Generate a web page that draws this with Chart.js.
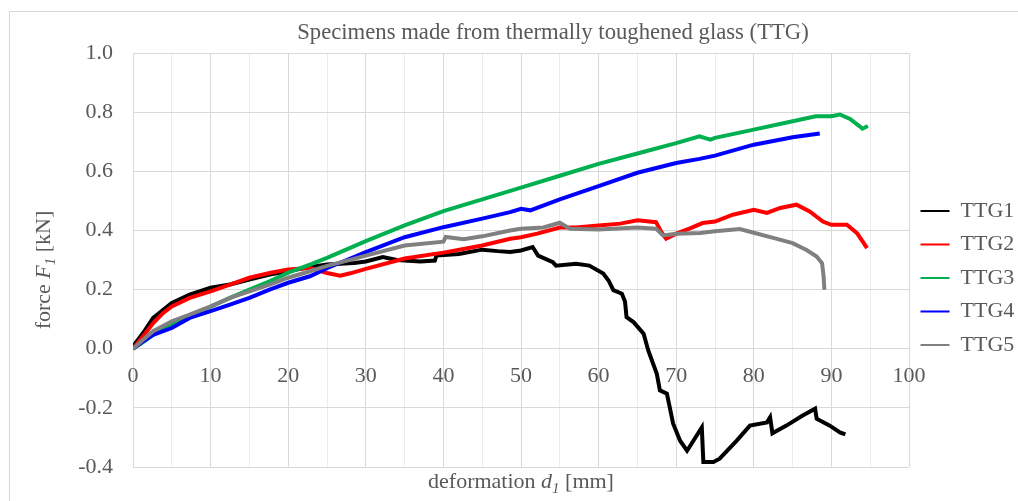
<!DOCTYPE html>
<html><head><meta charset="utf-8">
<script src="https://cdn.jsdelivr.net/npm/chart.js@4/dist/chart.umd.min.js"></script>
<style>html,body{margin:0;padding:0;background:#fff;} canvas{display:block;}</style>
</head><body>
<canvas id="c" width="1018" height="501"></canvas>
<script>
// ---- Data ----
const chartTitle = 'Specimens made from thermally toughened glass (TTG)';
const xTitleParts = [['deformation ', 'n'], ['d', 'i'], ['1', 's'], [' [mm]', 'n']];
const yTitleParts = [['force ', 'n'], ['F', 'i'], ['1', 's'], [' [kN]', 'n']];
const seriesNames = ['TTG1', 'TTG2', 'TTG3', 'TTG4', 'TTG5'];
const seriesColors = ['#000000', '#ff0000', '#00b050', '#0000ff', '#808080'];

const ttg1X = [0,1.3,2.6,3.9,5,7.3,10,12.5,15,17.6,20,22.5,25,26.7,28.5,30,32.2,34,35,37,38.9,39.1,42,45,47,48.6,50,51.5,52.2,54.1,54.5,57.1,58.8,60.6,61.3,61.9,63,63.4,63.6,64.5,65.8,66.4,67.5,67.9,68.8,69.6,70.5,71.4,73.3,73.5,74.8,75.6,77.8,79.5,81.7,82.1,82.4,84.2,86.3,87.9,88.1,89.8,91.1,91.8];
const ttg1Y = [0.008,0.053,0.104,0.132,0.155,0.183,0.206,0.217,0.234,0.251,0.262,0.275,0.285,0.287,0.29,0.295,0.31,0.3,0.298,0.295,0.298,0.315,0.32,0.335,0.33,0.327,0.332,0.344,0.315,0.293,0.281,0.287,0.281,0.254,0.23,0.198,0.186,0.16,0.107,0.09,0.051,-0.006,-0.085,-0.141,-0.152,-0.253,-0.311,-0.345,-0.266,-0.383,-0.383,-0.372,-0.311,-0.26,-0.249,-0.232,-0.286,-0.26,-0.226,-0.203,-0.237,-0.26,-0.283,-0.29];

const ttg2X = [0,1.3,2.6,3.9,5,7.3,10,12.5,15,17.6,20,22.8,25,26.7,28,30,35,40,45,48.6,50,52.1,55,57.1,60,62.8,65,67.4,68.1,68.7,70,71.7,73.4,75,77.3,80,81.7,83.4,85.5,87.2,88.9,90,92,93.3,94.6];
const ttg2Y = [0,0.042,0.087,0.121,0.143,0.172,0.194,0.217,0.24,0.256,0.268,0.273,0.256,0.247,0.255,0.27,0.305,0.325,0.349,0.372,0.377,0.389,0.41,0.41,0.417,0.423,0.434,0.428,0.394,0.372,0.389,0.406,0.425,0.43,0.453,0.47,0.459,0.476,0.487,0.464,0.43,0.419,0.419,0.391,0.34];

const ttg3X = [0,1.3,2.6,5,7.3,10,12.5,15,17.6,20,22.8,25,30,35,40,45,50,55,60,65,70,73,74.4,75,80,85,88,90,91.1,92.4,93.6,94,94.7];
const ttg3Y = [0,0.022,0.047,0.083,0.112,0.142,0.172,0.2,0.228,0.257,0.284,0.307,0.364,0.417,0.465,0.505,0.545,0.585,0.625,0.66,0.695,0.718,0.707,0.713,0.741,0.769,0.786,0.786,0.792,0.777,0.753,0.744,0.753];

const ttg4X = [0,1.3,2.6,5,7.3,10,12.5,15,17.6,20,22.8,25,30,35,40,45,48.6,50,51.2,55,60,65,70,73,75,80,85,88.5];
const ttg4Y = [0,0.025,0.047,0.07,0.104,0.127,0.149,0.172,0.2,0.223,0.245,0.272,0.327,0.377,0.411,0.44,0.462,0.473,0.468,0.505,0.55,0.595,0.628,0.642,0.653,0.69,0.715,0.728];

const ttg5X = [0,1.3,2.6,5,7.3,10,12.5,15,17.6,20,22.8,25,27.6,30,35,40,40.3,42.6,45,48.6,50,52.9,55,56.3,60,65,67.4,68.3,70,73.1,75,78.2,80,82.5,85,86.8,88.1,88.8,89,89.1];
const ttg5Y = [0,0.03,0.059,0.093,0.115,0.143,0.172,0.194,0.217,0.24,0.262,0.28,0.298,0.315,0.349,0.362,0.378,0.37,0.38,0.4,0.406,0.41,0.426,0.406,0.403,0.41,0.406,0.383,0.389,0.391,0.397,0.405,0.392,0.375,0.357,0.334,0.312,0.289,0.244,0.199];

const xMin = 0, xMax = 100, xMajor = 10, xMinor = 5;
const yMin = -0.4, yMax = 1.0, yStep = 0.2;

// ---- Styling ----
const FONT = "'Liberation Serif', 'Times New Roman', serif";
const TEXT = '#595959';
const allX = [ttg1X, ttg2X, ttg3X, ttg4X, ttg5X];
const allY = [ttg1Y, ttg2Y, ttg3Y, ttg4Y, ttg5Y];

const datasets = seriesNames.map((name, i) => ({
  label: name,
  data: allX[i].map((x, j) => ({x: x, y: allY[i][j]})),
  borderColor: seriesColors[i],
  backgroundColor: seriesColors[i],
  borderWidth: 4,
  pointRadius: 0,
  tension: 0,
  order: seriesNames.length - i
}));

function drawRich(ctx, parts, cx, y) {
  const fonts = parts.map(p => p[1] === 'n' ? `22px ${FONT}` : p[1] === 'i' ? `italic 22px ${FONT}` : `italic 15px ${FONT}`);
  let w = 0;
  const ws = parts.map((p, i) => { ctx.font = fonts[i]; const m = ctx.measureText(p[0]).width; w += m; return m; });
  let x = cx - w / 2;
  ctx.textAlign = 'left';
  ctx.textBaseline = 'alphabetic';
  parts.forEach((p, i) => { ctx.font = fonts[i]; ctx.fillText(p[0], x, y + (p[1] === 's' ? 5 : 0)); x += ws[i]; });
}

const decor = {
  id: 'decor',
  beforeDraw(chart) {
    const ctx = chart.ctx;
    ctx.save();
    ctx.fillStyle = '#ffffff';
    ctx.fillRect(0, 0, chart.width, chart.height);
    ctx.strokeStyle = '#d9d9d9';
    ctx.lineWidth = 1;
    ctx.strokeRect(9.5, 11.5, chart.width + 20, chart.height + 20);
    ctx.restore();
  },
  afterDraw(chart) {
    const ctx = chart.ctx;
    const a = chart.chartArea;
    ctx.save();
    ctx.fillStyle = TEXT;
    ctx.font = `22.7px ${FONT}`;
    ctx.textAlign = 'center';
    ctx.textBaseline = 'alphabetic';
    ctx.fillText(chartTitle, 553, 39);
    drawRich(ctx, xTitleParts, (a.left + a.right) / 2, 488);
    ctx.translate(50, 270);
    ctx.rotate(-Math.PI / 2);
    drawRich(ctx, yTitleParts, 0, 0);
    ctx.restore();
  }
};

new Chart(document.getElementById('c'), {
  type: 'line',
  data: {datasets},
  options: {
    responsive: false,
    animation: false,
    devicePixelRatio: 1,
    layout: {padding: {top: 53, left: 0, right: 0, bottom: 34}},
    scales: {
      x: {
        type: 'linear', position: {y: 0}, min: xMin, max: xMax,
        ticks: {stepSize: xMinor, autoSkip: false, maxRotation: 0, padding: 14, color: TEXT,
          font: {family: FONT, size: 22},
          callback: v => (Math.round(v) % xMajor === 0 ? String(Math.round(v)) : '')},
        grid: {color: c => (c.tick && Math.round(c.tick.value) % xMajor === 0) ? '#d9d9d9' : '#ececec', drawTicks: false},
        border: {display: false}
      },
      y: {
        min: yMin, max: yMax,
        ticks: {stepSize: yStep, padding: 20, color: TEXT, font: {family: FONT, size: 22},
          callback: v => (Math.abs(v) < 1e-9 ? 0 : v).toFixed(1)},
        grid: {color: '#d9d9d9', drawTicks: false},
        border: {display: false},
        afterFit: s => { s.width = 133; }
      }
    },
    plugins: {
      legend: {
        position: 'right', fullSize: false, maxWidth: 109,
        title: {display: true, text: '', font: {size: 30, lineHeight: 1.2}, padding: 0},
        labels: {
          boxWidth: 29, boxHeight: 0, padding: 11.5, color: TEXT,
          font: {family: FONT, size: 22},
          sort: (a, b) => a.datasetIndex - b.datasetIndex,
          generateLabels: chart => Chart.defaults.plugins.legend.labels.generateLabels(chart).map(l => Object.assign(l, {lineWidth: 2}))
        }
      },
      title: {display: false},
      tooltip: {enabled: false}
    }
  },
  plugins: [decor]
});
</script>
</body></html>
